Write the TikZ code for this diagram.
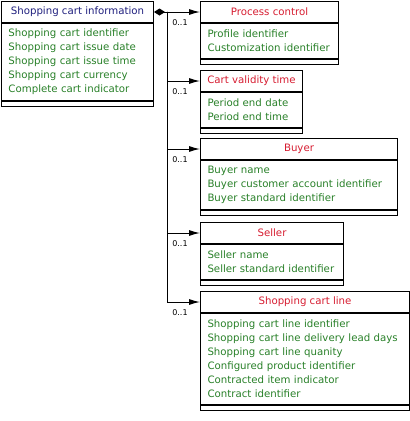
\documentclass[tikz,border=0pt]{standalone}
\usepackage{fontspec}
\setmainfont{DejaVu Sans}
\usetikzlibrary{arrows.meta}
\definecolor{titlered}{RGB}{214,28,48}
\definecolor{titleblue}{RGB}{30,30,125}
\definecolor{attrgreen}{RGB}{40,128,40}

\begin{document}
\begin{tikzpicture}[x=1pt, y=-1pt,
  every node/.style={font=\fontsize{10.2}{14}\selectfont, inner sep=0pt},
  clstitle/.style={draw, line width=1pt, text=titlered, minimum height=21pt,
                   anchor=north west},
  clsattr/.style={draw, line width=1pt, text=attrgreen, align=left,
                  inner xsep=7pt, anchor=north west,
                  execute at begin node={\hyphenpenalty=10000\exhyphenpenalty=10000}},
  clsfoot/.style={draw, line width=1pt, minimum height=5pt, anchor=north west},
  mult/.style={font=\fontsize{8}{9}\selectfont, text=black},
  link/.style={line width=1pt, -{Latex[length=11pt, width=6pt]}}
]
  \useasboundingbox (0,0) rectangle (410,421);

  % root class
  \node[clstitle, text=titleblue, minimum width=152] (cart) at (1,1) {Shopping cart information};
  \node[clsattr, text width=138, minimum height=77] (cartattr) at (cart.south west)
    {Shopping cart identifier\\Shopping cart issue date\\Shopping cart issue time\\Shopping cart currency\\Complete cart indicator};
  \node[clsfoot, minimum width=152] (cartfoot) at (cartattr.south west) {};

  % child classes
  \node[clstitle, minimum width=138] (proc) at (200,1) {Process control};
  \node[clsattr, text width=124, minimum height=35] (procattr) at (proc.south west)
    {Profile identifier\\Customization identifier};
  \node[clsfoot, minimum width=138] (procfoot) at (procattr.south west) {};

  \node[clstitle, minimum width=102] (valid) at (200,70) {Cart validity time};
  \node[clsattr, text width=88, minimum height=35] (validattr) at (valid.south west)
    {Period end date\\Period end time};
  \node[clsfoot, minimum width=102] (validfoot) at (validattr.south west) {};

  \node[clstitle, minimum width=197] (buyer) at (200,138) {Buyer};
  \node[clsattr, text width=183, minimum height=49] (buyerattr) at (buyer.south west)
    {Buyer name\\Buyer customer account identifier\\Buyer standard identifier};
  \node[clsfoot, minimum width=197] (buyerfoot) at (buyerattr.south west) {};

  \node[clstitle, minimum width=143] (seller) at (200,222) {Seller};
  \node[clsattr, text width=129, minimum height=35] (sellerattr) at (seller.south west)
    {Seller name\\Seller standard identifier};
  \node[clsfoot, minimum width=143] (sellerfoot) at (sellerattr.south west) {};

  \node[clstitle, minimum width=209] (line) at (200,291) {Shopping cart line};
  \node[clsattr, text width=195, minimum height=91] (lineattr) at (line.south west)
    {Shopping cart line identifier\\Shopping cart line delivery lead days\\Shopping cart line quanity\\Configured product identifier\\Contracted item indicator\\Contract identifier};
  \node[clsfoot, minimum width=209] (linefoot) at (lineattr.south west) {};

  % links
  \coordinate (trunk) at (167,11.5);
  \draw[link, {Diamond[length=11pt, width=7pt]}-{Latex[length=11pt, width=6pt]}] (cart.east) -- (proc.west);
  \draw[link] (trunk) |- (valid.west);
  \draw[link] (trunk) |- (buyer.west);
  \draw[link] (trunk) |- (seller.west);
  \draw[link] (trunk) |- (line.west);

  \foreach \cls in {proc, valid, buyer, seller, line}
    \node[mult] at ([xshift=-20pt, yshift=-11pt]\cls.west) {0..1};
\end{tikzpicture}
\end{document}
